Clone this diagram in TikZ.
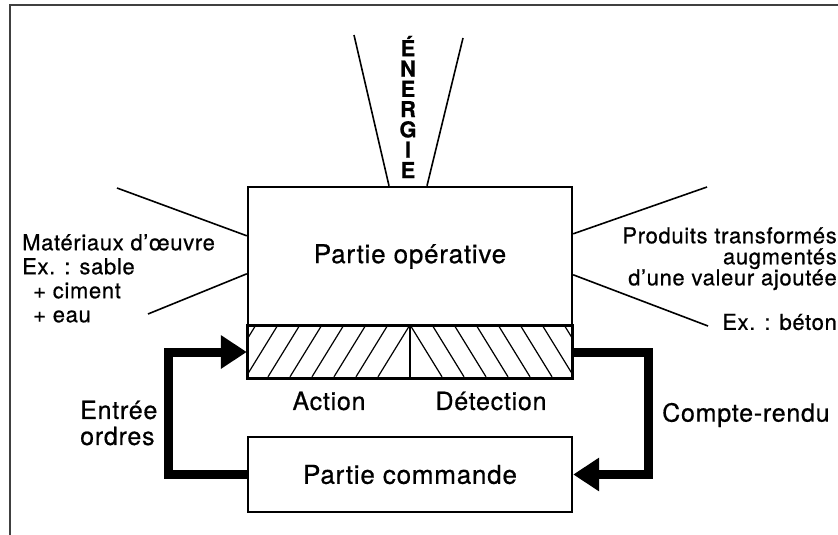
\documentclass[tikz,border=0pt]{standalone}
\usepackage{fontspec}
\setmainfont{TeX Gyre Heros}[LetterSpace=3, FakeBold=0.6]
\usetikzlibrary{arrows.meta,positioning,calc}

\begin{document}
\begin{tikzpicture}[x=1pt, y=-1pt,
    box/.style={rectangle, draw, line width=2.4pt, fill=white, inner sep=0pt,
                align=center, font=\fontsize{26}{30}\selectfont},
    side/.style={inner sep=0pt, font=\fontsize{22}{24}\selectfont},
    lbl/.style={inner sep=0pt, font=\fontsize{25}{26}\selectfont},
    ray/.style={line width=1.6pt},
    hatchline/.style={line width=1.2pt},
    flow/.style={-{Triangle[length=26pt, width=32pt]}, line width=9pt, line join=miter}
]
    \useasboundingbox (0,0) rectangle (838,535);
    \draw[line width=2pt, black!75] (10,545) -- (10,5) -- (850,5);

    \node[box, minimum width=324, minimum height=139] (op) at (410,256.5) {Partie opérative};
    \node[box, minimum width=324, minimum height=52] (hatch) at (410,352) {};
    \node[box, minimum width=324, minimum height=75] (cmd) at (410,474.5) {Partie commande};

    \begin{scope}
        \clip (hatch.north west) rectangle (hatch.south);
        \foreach \k in {0,...,8}
            \draw[hatchline] ($(hatch.north)+(-22*\k,0)$) -- ++(-32,52);
    \end{scope}
    \begin{scope}
        \clip (hatch.north) rectangle (hatch.south east);
        \foreach \k in {0,...,8}
            \draw[hatchline] ($(hatch.north)+(22*\k,0)$) -- ++(32,52);
    \end{scope}
    \draw[ray] (hatch.north) -- (hatch.south);
    \draw[line width=2.4pt] (hatch.north west) rectangle (hatch.south east);

    \node[lbl] (action) at (329,401) {Action};
    \node[lbl] (detect) at (491,401) {Détection};

    \draw[flow] (cmd.west) -- ++(-78,0) |- (hatch.west);
    \draw[flow] (hatch.east) -- ++(75,0) |- (cmd.east);
    \node[lbl, anchor=west, align=left] (ordres) at (80,423) {Entrée\\ordres};
    \node[lbl, anchor=west] (compte) at (662,415) {Compte-rendu};

    \node[inner sep=0pt, align=center, font=\fontsize{22}{20.3}\selectfont\bfseries] (nrj) at (408,107)
        {É\\N\\E\\R\\G\\I\\E};
    \coordinate (nrjL) at (354,35);
    \coordinate (nrjR) at (463,38);
    \draw[ray] (nrjL) -- ($(op.north)+(-21,0)$);
    \draw[ray] (nrjR) -- ($(op.north)+(17,0)$);

    \coordinate (inA) at (117,188);
    \coordinate (inB) at (148,314);
    \coordinate (outA) at (707,187);
    \coordinate (outB) at (708,326);
    \draw[ray] (inA) -- ($(op.north west)+(0,50)$);
    \draw[ray] (inB) -- ($(op.north west)+(0,88)$);
    \draw[ray] (outA) -- ($(op.north east)+(0,48)$);
    \draw[ray] (outB) -- ($(op.north east)+(0,89)$);

    \node[side, anchor=north west, align=left] (mat) at (22,234)
        {Matériaux d’œuvre\\Ex. : sable\\\hspace{11pt}+ ciment\\\hspace{11pt}+ eau};
    \node[side, anchor=north east, align=right, font=\fontsize{22}{21}\selectfont] (prod) at (837,227)
        {Produits transformés\\augmentés\\d’une valeur ajoutée};
    \node[side, anchor=east] (beton) at (837,322) {Ex. : béton};
\end{tikzpicture}
\end{document}
